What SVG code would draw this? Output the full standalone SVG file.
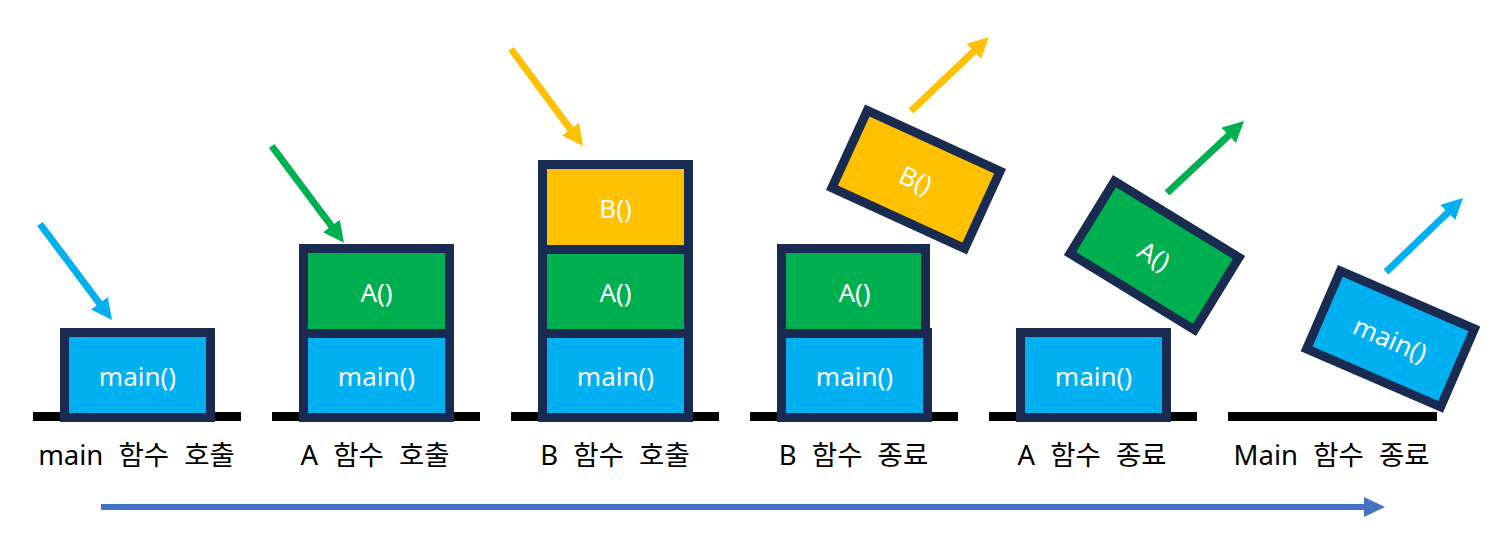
<svg xmlns="http://www.w3.org/2000/svg" width="1501" height="549" viewBox="0 0 1501 549">
<style>
.cell{stroke:#192B50;stroke-width:9}
.main{fill:#00B0F0}
.a{fill:#00B050}
.b{fill:#FFC000}
.ct{font-family:"Noto Sans","Noto Sans CJK KR",sans-serif;font-size:26px;fill:#FFFFFF;text-anchor:middle}
.lbl{font-family:"Noto Sans","Noto Sans CJK KR",sans-serif;font-size:27.5px;fill:#000000;text-anchor:middle;word-spacing:8px}
.ground{stroke:#000000;stroke-width:9}
.arr{stroke-width:7;fill:none}
</style>
<defs>
<marker id="hBlue" markerWidth="3" markerHeight="3" refX="1" refY="1.5" orient="auto"><path d="M0,0 L3,1.5 L0,3 z" fill="#00B0F0"/></marker>
<marker id="hGreen" markerWidth="3" markerHeight="3" refX="1" refY="1.5" orient="auto"><path d="M0,0 L3,1.5 L0,3 z" fill="#00B050"/></marker>
<marker id="hYellow" markerWidth="3" markerHeight="3" refX="1" refY="1.5" orient="auto"><path d="M0,0 L3,1.5 L0,3 z" fill="#FFC000"/></marker>
</defs>

<g id="grounds">
<line class="ground" x1="33" y1="416.5" x2="241" y2="416.5"/>
<line class="ground" x1="272" y1="416.5" x2="480" y2="416.5"/>
<line class="ground" x1="511" y1="416.5" x2="719" y2="416.5"/>
<line class="ground" x1="750" y1="416.5" x2="958" y2="416.5"/>
<line class="ground" x1="989" y1="416.5" x2="1197" y2="416.5"/>
<line class="ground" x1="1228" y1="416.5" x2="1437" y2="416.5"/>
</g>

<g id="stack1">
<rect class="cell main" x="64.5" y="332.5" width="146" height="85"/>
<text class="ct" x="137.5" y="386">main()</text>
</g>

<g id="stack2">
<rect class="cell main" x="303.5" y="332.5" width="146" height="85"/>
<rect class="cell a" x="303.5" y="248.5" width="146" height="85"/>
<text class="ct" x="376.5" y="386">main()</text>
<text class="ct" x="376.5" y="302">A()</text>
</g>

<g id="stack3">
<rect class="cell main" x="542.5" y="332.5" width="146" height="85"/>
<rect class="cell a" x="542.5" y="248.5" width="146" height="85"/>
<rect class="cell b" x="542.5" y="164.5" width="146" height="85"/>
<text class="ct" x="615.5" y="386">main()</text>
<text class="ct" x="615.5" y="302">A()</text>
<text class="ct" x="615.5" y="218">B()</text>
</g>

<g id="stack4">
<rect class="cell main" x="781.5" y="332.5" width="146" height="85"/>
<rect class="cell a" x="781.5" y="248.5" width="144" height="85"/>
<text class="ct" x="854.5" y="386">main()</text>
<text class="ct" x="854.5" y="302">A()</text>
</g>

<g id="poppedB" transform="translate(916,179.5) rotate(24.6)">
<rect class="cell b" x="-73" y="-42.5" width="146" height="85"/>
<text class="ct" x="0" y="10">B()</text>
</g>

<g id="stack5">
<rect class="cell main" x="1020.5" y="332.5" width="146" height="85"/>
<text class="ct" x="1093.5" y="386">main()</text>
</g>

<g id="poppedA" transform="translate(1154.5,255.5) rotate(31.5)">
<rect class="cell a" x="-73" y="-42.5" width="146" height="85"/>
<text class="ct" x="0" y="10">A()</text>
</g>

<g id="poppedMain" transform="translate(1390.5,338.8) rotate(23.4)">
<rect class="cell main" x="-73" y="-42.5" width="146" height="85"/>
<text class="ct" x="0" y="10">main()</text>
</g>

<g id="labels">
<text class="lbl" x="136.5" y="465">main 함수 호출</text>
<text class="lbl" x="375" y="465">A 함수 호출</text>
<text class="lbl" x="615" y="465">B 함수 호출</text>
<text class="lbl" x="853.5" y="465">B 함수 종료</text>
<text class="lbl" x="1092" y="465">A 함수 종료</text>
<text class="lbl" x="1331.5" y="465">Main 함수 종료</text>
</g>

<g id="connectors">
<line class="arr" stroke="#00B0F0" x1="40" y1="224" x2="103.6" y2="308.8" marker-end="url(#hBlue)"/>
<line class="arr" stroke="#00B050" x1="271.7" y1="146" x2="335.6" y2="231.5" marker-end="url(#hGreen)"/>
<line class="arr" stroke="#FFC000" x1="511" y1="49" x2="574.7" y2="134.8" marker-end="url(#hYellow)"/>
<line class="arr" stroke="#FFC000" x1="911" y1="111" x2="978.8" y2="46.6" marker-end="url(#hYellow)"/>
<line class="arr" stroke="#00B050" x1="1167" y1="193" x2="1233.8" y2="130.6" marker-end="url(#hGreen)"/>
<line class="arr" stroke="#00B0F0" x1="1386" y1="272" x2="1452.9" y2="207.7" marker-end="url(#hBlue)"/>
<line stroke="#4472C4" stroke-width="6" x1="101" y1="507" x2="1365" y2="507"/>
<path d="M1364,497 L1385,507 L1364,517 z" fill="#4472C4"/>
</g>
</svg>
